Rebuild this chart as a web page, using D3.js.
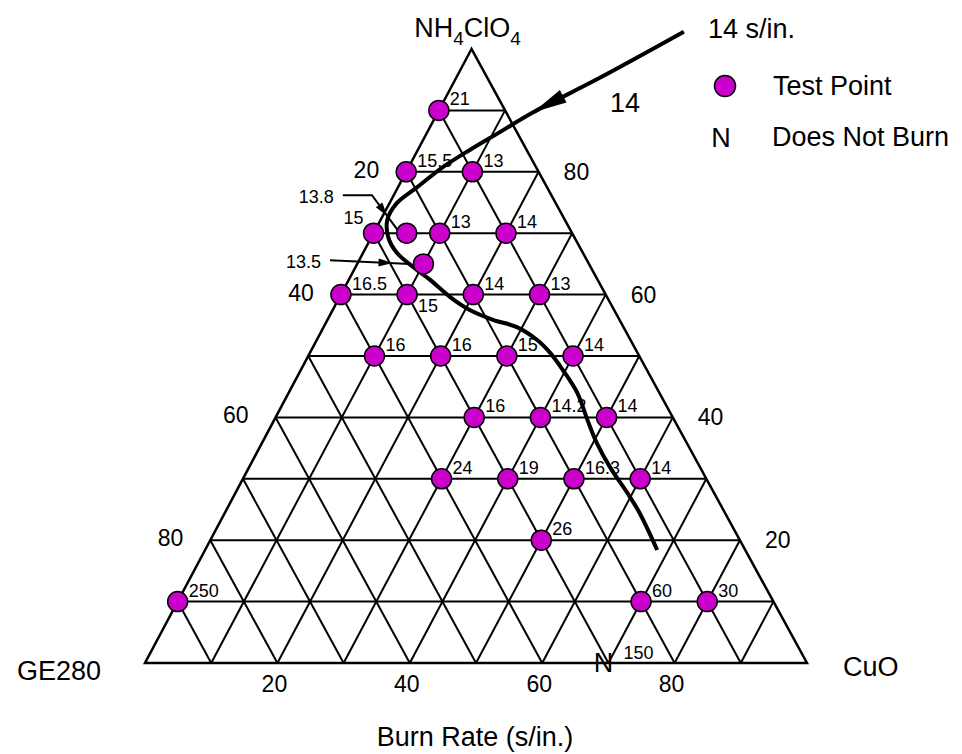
<!DOCTYPE html>
<html>
<head>
<meta charset="utf-8">
<script src="https://cdn.jsdelivr.net/npm/d3@7"></script>
<style>
body { margin: 0; background: #fff; }
svg { display: block; font-family: "Liberation Sans", Arial, Helvetica, sans-serif; }
.grid { fill: none; stroke: #000; stroke-width: 2; }
.outline { fill: none; stroke: #000; stroke-width: 2.5; stroke-linejoin: miter; }
.contour { fill: none; stroke: #000; stroke-width: 4; }
.callout { fill: none; stroke: #000; stroke-width: 2; }
.point { fill: #cc00cc; stroke: #000; stroke-width: 1.5; }
.rate { font-size: 18px; }
.tick { font-size: 23px; }
.big { font-size: 27px; }
</style>
</head>
<body>
<script>
//wrap everything in a self-executing function
(function(){

//test points: NH4ClO4 % and CuO %, GE280 makes up the rest
var ptNH4ClO4 = [90, 80, 80, 70, 70, 70, 70, 65, 60, 60, 60, 60, 50, 50, 50, 50, 40, 40, 40, 30, 30, 30, 30, 20, 10, 10, 10];
var ptCuO     = [ 0,  0, 10,  0,  5, 10, 20, 10,  0, 10, 20, 30, 10, 20, 30, 40, 30, 40, 50, 30, 40, 50, 60, 50,  0, 70, 80];
var ptRate    = ["21", "15.5", "13", "15", "", "13", "14", "", "16.5", "15", "14", "13", "16", "16", "15", "14",
                 "16", "14.2", "14", "24", "19", "16.3", "14", "26", "250", "60", "30"];
//which side of the dot the rate is written on
var ptSide    = ["ur", "ur", "ur", "ul", "ur", "ur", "ur", "ur", "ur", "lr", "ur", "ur", "ur", "ur", "ur", "ur",
                 "ur", "ur", "ur", "ur", "ur", "ur", "ur", "ur", "ur", "ur", "ur"];

//does not burn
var nbNH4ClO4 = [0];
var nbCuO = [70];
var nbRate = ["150"];

//rates pointed at with an arrow
var calloutRate = ["13.8", "13.5"];
var calloutNH4ClO4 = [[76.2, 76.2, 70.5], [65.6, 65.0]];
var calloutCuO = [[-7.7, -3.3, 3.4], [-4.4, 8.0]];

//14 s/in. line (NH4ClO4 %, CuO %), starts at the label outside the triangle
var contourNH4ClO4 = [102.8, 95.3, 89.7, 86.5, 83.6, 80.8, 77.5, 74.9, 72.2, 69.4, 66.8, 64.5, 62.4, 59.6,
                      57.5, 55.9, 54.7, 52.6, 50.5, 47.7, 44.0, 39.6, 35.8, 31.9, 27.7, 24.4, 18.4];
var contourCuO     = [30.7, 21.7, 14.4, 11.0, 7.9, 5.2, 2.9, 1.1, 1.0, 2.5, 5.1, 8.7, 12.3, 16.7,
                      20.7, 25.0, 29.2, 33.3, 36.3, 39.6, 43.6, 47.3, 50.6, 54.5, 59.2, 62.7, 68.3];

var tickValues = [20, 40, 60, 80];

var width = 962, height = 754;

var svg = d3.select("body")
    .append("svg")
    .attr("width", width)
    .attr("height", height);

//ternary scales: NH4ClO4 sets the row, CuO slides along the row
var yScale = d3.scaleLinear().domain([0, 100]).range([663, 49]);
var xShift = d3.scaleLinear().domain([0, 100]).range([145, 471.5]);
var xCuO = d3.scaleLinear().domain([0, 100]).range([0, 662]);

function project(a, c){
    return [xShift(a) + xCuO(c), yScale(a)];
};

var line = d3.line();

//grid every 10%
var gridLines = [];
for (var v=10; v<100; v+=10){
    gridLines.push([project(v, 0), project(v, 100 - v)]);
    gridLines.push([project(0, v), project(100 - v, v)]);
    gridLines.push([project(0, 100 - v), project(100 - v, 0)]);
};
svg.selectAll(".grid")
    .data(gridLines)
    .enter()
    .append("path")
    .attr("class", "grid")
    .attr("d", line);

svg.append("path")
    .attr("class", "outline")
    .attr("d", line([project(100, 0), project(0, 0), project(0, 100)]) + "Z");

//arrow head helper, tip at p, pointing away from q
function arrowHead(p, q, len, half){
    var dx = p[0] - q[0], dy = p[1] - q[1];
    var l = Math.sqrt(dx*dx + dy*dy);
    var ux = dx / l, uy = dy / l;
    var bx = p[0] - ux * len, by = p[1] - uy * len;
    return line([p, [bx - uy * half, by + ux * half], [bx + uy * half, by - ux * half]]) + "Z";
};

//14 s/in. contour
var contourPts = contourNH4ClO4.map(function(a, i){ return project(a, contourCuO[i]); });
svg.append("path")
    .attr("class", "contour")
    .attr("d", d3.line().curve(d3.curveCatmullRom.alpha(0.5))(contourPts));
svg.append("path")
    .attr("d", arrowHead(contourPts[2], contourPts[0], 34, 7))
    .style("fill", "#000");

//callout arrows
calloutRate.forEach(function(r, i){
    var pts = calloutNH4ClO4[i].map(function(a, j){ return project(a, calloutCuO[i][j]); });
    svg.append("path")
        .attr("class", "callout")
        .attr("d", line(pts));
    var p0 = pts[pts.length - 2], p1 = pts[pts.length - 1];
    var f = i == 0 ? 0.6 : 0.78;
    var tip = [p0[0] + (p1[0] - p0[0]) * f, p0[1] + (p1[1] - p0[1]) * f];
    svg.append("path")
        .attr("d", arrowHead(tip, p0, 14, 4))
        .style("fill", "#000");
    svg.append("text")
        .attr("class", "rate")
        .attr("text-anchor", "end")
        .attr("x", pts[0][0] - 9)
        .attr("y", pts[0][1] + 8)
        .text(r);
});

//test points
var points = ptNH4ClO4.map(function(a, i){
    var p = project(a, ptCuO[i]);
    return { x: p[0], y: p[1], rate: ptRate[i], side: ptSide[i] };
});

svg.selectAll(".point")
    .data(points)
    .enter()
    .append("circle")
    .attr("class", "point")
    .attr("cx", function(d){ return d.x; })
    .attr("cy", function(d){ return d.y; })
    .attr("r", 10);

svg.selectAll(".ptlabel")
    .data(points)
    .enter()
    .append("text")
    .attr("class", "rate")
    .attr("text-anchor", function(d){ return d.side == "ul" ? "end" : "start"; })
    .attr("x", function(d){ return d.side == "ul" ? d.x - 10 : d.x + 11; })
    .attr("y", function(d){ return d.side == "lr" ? d.y + 17 : (d.side == "ul" ? d.y - 9 : d.y - 5); })
    .text(function(d){ return d.rate; });

//does not burn marks
nbNH4ClO4.forEach(function(a, i){
    var p = project(a, nbCuO[i]);
    svg.append("text")
        .attr("class", "big")
        .attr("text-anchor", "middle")
        .attr("x", p[0] - 5)
        .attr("y", p[1] + 9)
        .text("N");
    svg.append("text")
        .attr("class", "rate")
        .attr("x", p[0] + 15)
        .attr("y", p[1] - 4)
        .text(nbRate[i]);
});

//tick labels: GE280 on the left, NH4ClO4 on the right, CuO on the bottom
svg.selectAll(".tickL")
    .data(tickValues)
    .enter()
    .append("text")
    .attr("class", "tick")
    .attr("text-anchor", "end")
    .attr("x", function(d){ return project(100 - d, 0)[0] - 27; })
    .attr("y", function(d){ return project(100 - d, 0)[1] + 6; })
    .text(function(d){ return d; });

svg.selectAll(".tickR")
    .data(tickValues)
    .enter()
    .append("text")
    .attr("class", "tick")
    .attr("x", function(d){ return project(d, 100 - d)[0] + 25; })
    .attr("y", function(d){ return project(d, 100 - d)[1] + 8; })
    .text(function(d){ return d; });

svg.selectAll(".tickB")
    .data(tickValues)
    .enter()
    .append("text")
    .attr("class", "tick")
    .attr("text-anchor", "middle")
    .attr("x", function(d){ return project(0, d)[0] - 3; })
    .attr("y", function(d){ return project(0, d)[1] + 29; })
    .text(function(d){ return d; });

//corner names
var apex = project(100, 0), bl = project(0, 0), br = project(0, 100);
var nh = svg.append("text")
    .attr("class", "big")
    .attr("text-anchor", "middle")
    .attr("x", apex[0] - 4)
    .attr("y", apex[1] - 12);
nh.append("tspan").text("NH");
nh.append("tspan").attr("dy", 8).style("font-size", "19px").text("4");
nh.append("tspan").attr("dy", -8).text("ClO");
nh.append("tspan").attr("dy", 8).style("font-size", "19px").text("4");

svg.append("text")
    .attr("class", "big")
    .attr("text-anchor", "end")
    .attr("x", bl[0] - 44)
    .attr("y", bl[1] + 17)
    .text("GE280");

svg.append("text")
    .attr("class", "big")
    .attr("x", br[0] + 36)
    .attr("y", br[1] + 13)
    .text("CuO");

svg.append("text")
    .attr("class", "big")
    .attr("text-anchor", "middle")
    .attr("x", 475)
    .attr("y", 746)
    .text("Burn Rate (s/in.)");

//contour labels
svg.append("text")
    .attr("class", "big")
    .attr("x", contourPts[0][0] + 24)
    .attr("y", contourPts[0][1] + 6)
    .text("14 s/in.");
svg.append("text")
    .attr("class", "big")
    .attr("x", 610)
    .attr("y", 112)
    .text("14");

//legend
svg.append("circle")
    .attr("class", "point")
    .attr("cx", 725)
    .attr("cy", 86)
    .attr("r", 10.5);
svg.append("text")
    .attr("class", "big")
    .attr("x", 773)
    .attr("y", 95)
    .text("Test Point");
svg.append("text")
    .attr("class", "big")
    .attr("text-anchor", "middle")
    .attr("x", 721)
    .attr("y", 147)
    .text("N");
svg.append("text")
    .attr("class", "big")
    .attr("x", 772)
    .attr("y", 146)
    .text("Does Not Burn");

})();
</script>
</body>
</html>
